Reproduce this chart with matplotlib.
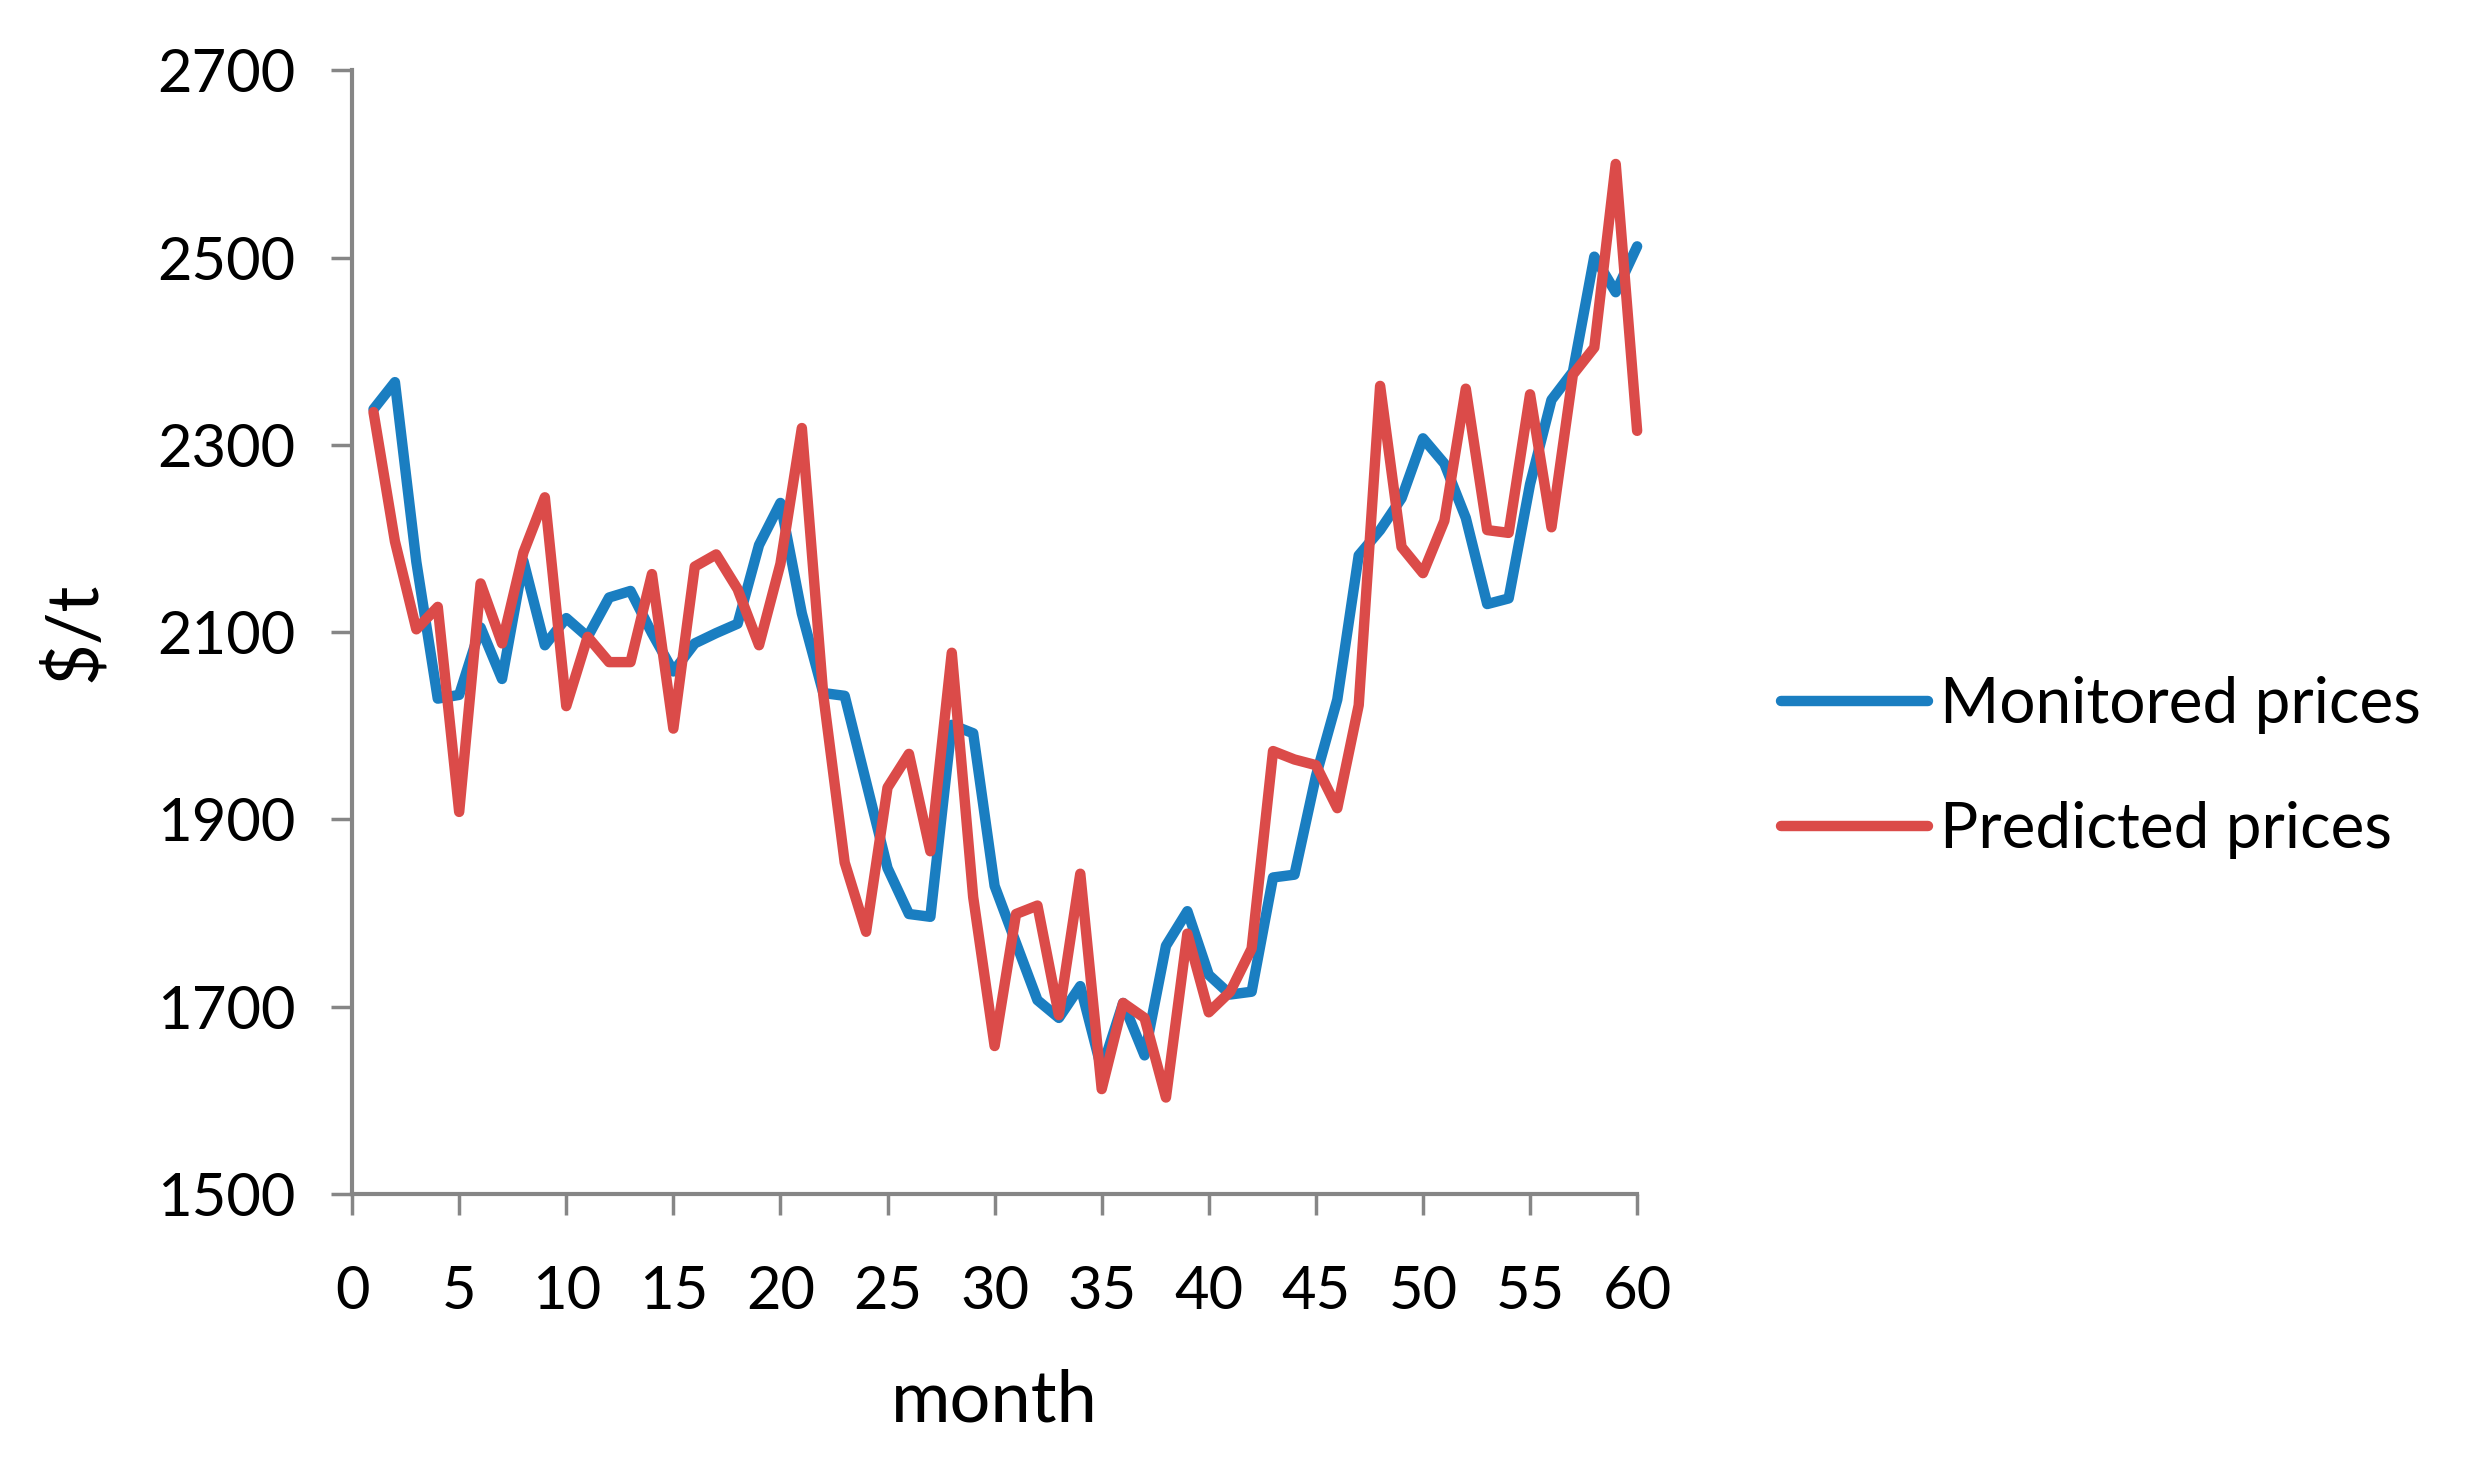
import matplotlib
matplotlib.use("Agg")
import matplotlib.pyplot as plt

# monthly price series
months = list(range(1, 61))
monitored = [2338, 2367, 2175, 2029, 2033, 2105, 2050, 2176, 2086, 2115,
             2095, 2137, 2144, 2099, 2058, 2088, 2099, 2109, 2193, 2238,
             2120, 2035, 2032, 1940, 1848, 1799, 1796, 2001, 1992, 1829,
             1768, 1707, 1688, 1722, 1633, 1704, 1648, 1765, 1802, 1734,
             1713, 1716, 1838, 1841, 1946, 2028, 2182, 2209, 2243, 2307,
             2280, 2222, 2130, 2136, 2258, 2348, 2378, 2501, 2463, 2512]
predicted = [2335, 2197, 2103, 2127, 1908, 2152, 2088, 2185, 2244, 2021,
             2095, 2068, 2068, 2162, 1997, 2170, 2183, 2146, 2086, 2173,
             2318, 2033, 1854, 1780, 1934, 1970, 1866, 2078, 1817, 1658,
             1799, 1808, 1691, 1842, 1612, 1704, 1688, 1603, 1778, 1694,
             1716, 1762, 1973, 1964, 1958, 1912, 2022, 2363, 2191, 2163,
             2219, 2360, 2209, 2206, 2354, 2212, 2375, 2404, 2600, 2315]

x_ticks = list(range(0, 61, 5))
y_ticks = list(range(1500, 2701, 200))

FONT = "Lato"
GRAY = "#868686"
TICK_FS = 43
LEGEND_FS = 46
LABEL_FS = 52

fig = plt.figure(figsize=(24.76, 14.65), dpi=100)
ax = fig.add_axes([0.1422, 0.185, 0.6612 - 0.1422, 0.952 - 0.185])

for ys, col, lab in ((monitored, "#1A7EC1", "Monitored prices"),
                     (predicted, "#DB4B49", "Predicted prices")):
    ax.plot(months, ys, color=col, lw=7.5, label=lab, clip_on=False,
            solid_joinstyle="round", solid_capstyle="round")

ax.set_xlim(0, 60)
ax.set_ylim(1500, 2700)
ax.set_xticks(x_ticks)
ax.set_yticks(y_ticks)
ax.set_xticklabels([str(t) for t in x_ticks], fontsize=TICK_FS, family=FONT)
ax.set_yticklabels([str(t) for t in y_ticks], fontsize=TICK_FS, family=FONT)

for side in ("top", "right"):
    ax.spines[side].set_visible(False)
for side in ("left", "bottom"):
    ax.spines[side].set_color(GRAY)
    ax.spines[side].set_linewidth(3)
ax.tick_params(axis="both", direction="out", length=15, width=2.5,
               color=GRAY, labelcolor="black")
ax.tick_params(axis="x", pad=36)
ax.tick_params(axis="y", pad=26)

ax.set_xlabel("month", fontsize=LABEL_FS, family=FONT, labelpad=36)
ax.set_ylabel("$/t", fontsize=LABEL_FS, family=FONT, labelpad=36)

fig.legend(loc="center left", bbox_to_anchor=(0.7195, 0.476),
           frameon=False, prop={"family": FONT, "size": LEGEND_FS},
           borderpad=0, borderaxespad=0, handlelength=2.3,
           handletextpad=0.18, labelspacing=1.05)

fig.savefig("out.png", dpi=100)
